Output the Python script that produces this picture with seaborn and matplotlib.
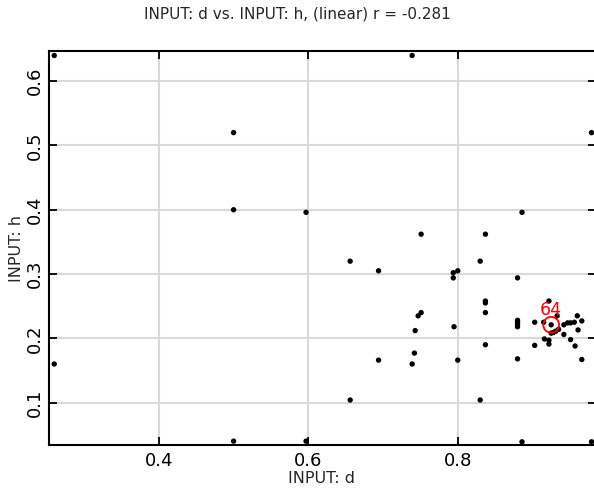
import matplotlib
matplotlib.use("Agg")
import matplotlib.pyplot as plt
import seaborn as sns
import pandas as pd

d_vals = [0.26, 0.26, 0.50, 0.50, 0.50, 0.597, 0.597, 0.739, 0.979, 0.979,
          0.886, 0.886, 0.751, 0.837, 0.656, 0.830, 0.694, 0.794, 0.800, 0.794,
          0.880, 0.922, 0.837, 0.837, 0.837, 0.751, 0.747, 0.743, 0.795, 0.880,
          0.880, 0.880, 0.880, 0.903, 0.925, 0.933, 0.915, 0.960, 0.966, 0.956,
          0.951, 0.947, 0.942, 0.935, 0.931, 0.928, 0.925, 0.942, 0.961, 0.916,
          0.922, 0.951, 0.922, 0.903, 0.957, 0.966, 0.837, 0.742, 0.694, 0.800,
          0.739, 0.880, 0.656, 0.830]
h_vals = [0.640, 0.160, 0.520, 0.400, 0.040, 0.396, 0.040, 0.640, 0.520, 0.039,
          0.396, 0.039, 0.362, 0.362, 0.320, 0.320, 0.305, 0.302, 0.305, 0.294,
          0.294, 0.258, 0.258, 0.255, 0.240, 0.240, 0.235, 0.212, 0.218, 0.228,
          0.225, 0.222, 0.218, 0.225, 0.221, 0.235, 0.225, 0.235, 0.227, 0.225,
          0.224, 0.224, 0.221, 0.214, 0.211, 0.209, 0.208, 0.206, 0.213, 0.199,
          0.197, 0.198, 0.191, 0.189, 0.188, 0.167, 0.190, 0.177, 0.166, 0.166,
          0.160, 0.168, 0.104, 0.104]
highlight_label = "64"
highlight_d = 0.925
highlight_h = 0.221
title_text = "INPUT: d vs. INPUT: h, (linear) r = -0.281"
x_label = "INPUT: d"
y_label = "INPUT: h"
x_ticks = [0.4, 0.6, 0.8]
y_ticks = [0.1, 0.2, 0.3, 0.4, 0.5, 0.6]

df = pd.DataFrame({"d": d_vals, "h": h_vals})

sns.set_theme(style="white")
plt.rcParams['font.family'] = ['DejaVu Sans']

fig = plt.figure(figsize=(5.94, 4.9), dpi=100)
ax = fig.add_axes([49/594, 1 - 445/490, (596-49)/594, (445-51)/490])

sns.scatterplot(data=df, x="d", y="h", ax=ax, color="black", s=15,
                edgecolor="none", linewidth=0, zorder=3, clip_on=True)

ax.scatter([highlight_d], [highlight_h], s=130, facecolors="none",
           edgecolors="red", linewidths=1.3, zorder=4)
ax.annotate(highlight_label, (highlight_d, highlight_h), xytext=(0, 4.5),
            textcoords="offset points", ha="center", va="bottom",
            color="red", fontsize=12.5, zorder=5)

ax.set_xlim(0.253, 0.985)
ax.set_ylim(0.034, 0.647)
ax.set_xticks(x_ticks)
ax.set_yticks(y_ticks)
ax.set_xticklabels([f"{v:.1f}" for v in x_ticks])
ax.set_yticklabels([f"{v:.1f}" for v in y_ticks], rotation=90, va="center")

ax.grid(True, color="#d9d9d9", linewidth=1.5, zorder=0)
ax.set_axisbelow(True)
for s in ax.spines.values():
    s.set_color("black")
    s.set_linewidth(1.5)
    s.set_visible(True)

ax.tick_params(axis="both", direction="in", length=6, width=1.3,
               colors="black", labelsize=13, top=True, right=True,
               bottom=True, left=True, pad=4)
ax.tick_params(axis="x", pad=5)

ax.set_xlabel(x_label, fontsize=11.5, labelpad=0)
ax.set_ylabel(y_label, fontsize=11.5)
ax.xaxis.set_label_coords((322 - 49) / 547, -0.066)
ax.yaxis.set_label_coords(-0.045, 0.5)

fig.suptitle(title_text, fontsize=11, y=1 - 14/490, va="center")

fig.savefig("out.png", dpi=100)
